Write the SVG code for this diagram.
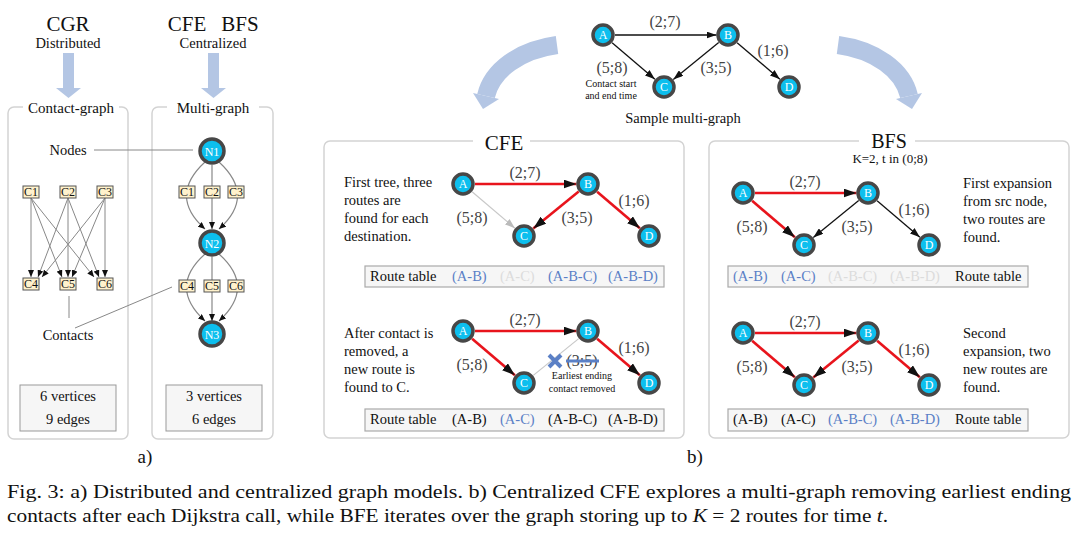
<svg xmlns="http://www.w3.org/2000/svg" width="1083" height="537" viewBox="0 0 1083 537">
<style>
text{font-family:"Liberation Serif","Times New Roman",serif;fill:#111}
.t14{font-size:14.5px}
.mid{text-anchor:middle}
.lab{font-size:16px;fill:#444;text-anchor:middle}
.nl{font-size:12px;fill:#fff;text-anchor:middle}
.nd{fill:#0dbfee;stroke:#474747;stroke-width:3.5}
.panel{fill:none;stroke:#d3d3d3;stroke-width:1.5}
.tbl{fill:#f6f6f6;stroke:#aaa;stroke-width:1.2}
.blue{fill:#5b80c6}
.faint{fill:#dcdcdc}
.red{stroke:#e8141c;stroke-width:2.6;fill:none;marker-end:url(#ahBig)}
.blk{stroke:#111;stroke-width:1.3;fill:none;marker-end:url(#ah)}
.gry{stroke:#c8c8c8;stroke-width:1.2;fill:none}
.cbox{fill:#fff2cc;stroke:#555;stroke-width:1}
.ct{font-size:12px;text-anchor:middle}
.cl{stroke:#888;stroke-width:1;fill:none;marker-end:url(#ahS)}
.ml{stroke:#888;stroke-width:1.2;fill:none;marker-end:url(#ahS)}
.lead{stroke:#888;stroke-width:1;fill:none}
.bigarrow{fill:#b4c6e4}
</style>
<defs>
<marker id="ah" markerUnits="userSpaceOnUse" markerWidth="10" markerHeight="7" refX="10" refY="3.5" orient="auto"><path d="M0,0 L10,3.5 L0,7 z" fill="#111"/></marker>
<marker id="ahBig" markerUnits="userSpaceOnUse" markerWidth="13" markerHeight="9" refX="13" refY="4.5" orient="auto"><path d="M0,0 L13,4.5 L0,9 z" fill="#111"/></marker>
<marker id="ahG" markerUnits="userSpaceOnUse" markerWidth="10" markerHeight="7" refX="10" refY="3.5" orient="auto"><path d="M0,0 L10,3.5 L0,7 z" fill="#bbb"/></marker>
<marker id="ahS" markerUnits="userSpaceOnUse" markerWidth="7" markerHeight="6" refX="7" refY="3" orient="auto"><path d="M0,0 L7,3 L0,6 z" fill="#111"/></marker>
</defs>
<rect width="1083" height="537" fill="#fff"/>

<!-- ===== Left: a) ===== -->
<text x="68" y="31" class="mid" font-size="21">CGR</text>
<text x="68" y="48" class="mid t14">Distributed</text>
<g id="arrow-cgr"><rect class="bigarrow" x="63" y="53" width="11" height="36"/><polygon class="bigarrow" points="56,88 81,88 68.5,98"/></g>
<text x="187" y="31" class="mid" font-size="21">CFE</text>
<text x="240" y="31" class="mid" font-size="21">BFS</text>
<text x="213" y="48" class="mid t14">Centralized</text>
<g id="arrow-central"><rect class="bigarrow" x="208" y="53" width="11" height="36"/><polygon class="bigarrow" points="201,88 226,88 213.5,98"/></g>

<g id="panel-contact-graph">
<rect class="panel" x="8" y="107" width="120" height="332" rx="6"/>
<rect x="23" y="99" width="96" height="16" fill="#fff"/>
<text x="71" y="113" class="mid" font-size="15">Contact-graph</text>
</g>
<g id="panel-multi-graph">
<rect class="panel" x="152" y="107" width="121" height="332" rx="6"/>
<rect x="167" y="99" width="92" height="16" fill="#fff"/>
<text x="213" y="113" class="mid" font-size="15">Multi-graph</text>
</g>

<g id="contact-edges">
<path class="cl" d="M31,198 L31,277"/>
<path class="cl" d="M31,198 L62,277"/>
<path class="cl" d="M31,198 L94,277"/>
<path class="cl" d="M68,198 L38,277"/>
<path class="cl" d="M68,198 L68,277"/>
<path class="cl" d="M68,198 L99,277"/>
<path class="cl" d="M105,198 L42,277"/>
<path class="cl" d="M105,198 L72,277"/>
<path class="cl" d="M105,198 L105,277"/>
</g>
<g id="cg-C1"><rect class="cbox" x="23" y="186" width="16" height="12"/><text class="ct" x="31" y="196">C1</text></g>
<g id="cg-C2"><rect class="cbox" x="60" y="186" width="16" height="12"/><text class="ct" x="68" y="196">C2</text></g>
<g id="cg-C3"><rect class="cbox" x="97" y="186" width="16" height="12"/><text class="ct" x="105" y="196">C3</text></g>
<g id="cg-C4"><rect class="cbox" x="23" y="278" width="16" height="12"/><text class="ct" x="31" y="288">C4</text></g>
<g id="cg-C5"><rect class="cbox" x="60" y="278" width="16" height="12"/><text class="ct" x="68" y="288">C5</text></g>
<g id="cg-C6"><rect class="cbox" x="97" y="278" width="16" height="12"/><text class="ct" x="105" y="288">C6</text></g>

<g id="annotations-a">
<text x="68" y="155" class="mid t14">Nodes</text>
<path class="lead" d="M94,150 L193,150"/>
<path class="lead" d="M69,296 L69,318"/>
<path class="lead" d="M75,328 L172,287"/>
<text x="68" y="340" class="mid t14">Contacts</text>
</g>

<g id="multi-edges">
<path class="ml" d="M205,162 Q168,196 205,229"/>
<path class="ml" d="M212,165 L212,229" stroke-width="2"/>
<path class="ml" d="M219,162 Q256,196 219,229"/>
<path class="ml" d="M205,254 Q168,287 205,321"/>
<path class="ml" d="M212,257 L212,321" stroke-width="2"/>
<path class="ml" d="M219,254 Q256,287 219,321"/>
</g>
<g id="mg-C1"><rect class="cbox" x="179" y="186" width="16" height="12"/><text class="ct" x="187" y="196">C1</text></g>
<g id="mg-C2"><rect class="cbox" x="204" y="186" width="16" height="12"/><text class="ct" x="212" y="196">C2</text></g>
<g id="mg-C3"><rect class="cbox" x="228" y="186" width="16" height="12"/><text class="ct" x="236" y="196">C3</text></g>
<g id="mg-C4"><rect class="cbox" x="179" y="280" width="16" height="12"/><text class="ct" x="187" y="290">C4</text></g>
<g id="mg-C5"><rect class="cbox" x="204" y="280" width="16" height="12"/><text class="ct" x="212" y="290">C5</text></g>
<g id="mg-C6"><rect class="cbox" x="228" y="280" width="16" height="12"/><text class="ct" x="236" y="290">C6</text></g>
<g id="mg-N1" transform="translate(212,151)"><circle class="nd" r="12"/><text class="nl" y="4.5">N1</text></g>
<g id="mg-N2" transform="translate(212,243)"><circle class="nd" r="12"/><text class="nl" y="4.5">N2</text></g>
<g id="mg-N3" transform="translate(212,334)"><circle class="nd" r="12"/><text class="nl" y="4.5">N3</text></g>

<g id="stats-contact"><rect x="20" y="385" width="96" height="46" fill="#f6f6f6" stroke="#999"/><text x="68" y="401" class="mid t14">6 vertices</text><text x="68" y="424" class="mid t14">9 edges</text></g>
<g id="stats-multi"><rect x="166" y="385" width="96" height="46" fill="#f6f6f6" stroke="#999"/><text x="214" y="401" class="mid t14">3 vertices</text><text x="214" y="424" class="mid t14">6 edges</text></g>
<text x="145" y="463" class="mid" font-size="19">a)</text>

<!-- ===== Top sample multi-graph ===== -->
<g id="curved-arrows">
<path d="M557,45 C520,50 492,70 486,96" fill="none" stroke="#b4c6e4" stroke-width="18"/>
<polygon class="bigarrow" points="473,93 499,99 483,109"/>
<path d="M838,45 C875,50 903,70 909,96" fill="none" stroke="#b4c6e4" stroke-width="18"/>
<polygon class="bigarrow" points="896,99 922,93 912,109"/>
</g>
<g transform="translate(603,35)">
<g id="sample-edges">
<path class="blk" d="M12,0 L113.5,0"/>
<path class="blk" d="M9.1,7.8 L51.9,44.2"/>
<path class="blk" d="M115.7,7.6 L70.3,44.4"/>
<path class="blk" d="M134.1,7.8 L176.9,44.2"/>
<text class="lab" x="62" y="-8">(2;7)</text>
<text class="lab" x="9" y="38">(5;8)</text>
<text class="lab" x="113" y="38">(3;5)</text>
<text class="lab" x="170" y="21">(1;6)</text>
<text x="8" y="52" class="mid" font-size="10" fill="#444">Contact start</text>
<text x="8" y="64" class="mid" font-size="10" fill="#444">and end time</text>
</g>
<g id="sample-A"><circle class="nd" r="10"/><text class="nl" y="4">A</text></g>
<g id="sample-B" transform="translate(125,0)"><circle class="nd" r="10"/><text class="nl" y="4">B</text></g>
<g id="sample-C" transform="translate(61,52)"><circle class="nd" r="10"/><text class="nl" y="4">C</text></g>
<g id="sample-D" transform="translate(186,52)"><circle class="nd" r="10"/><text class="nl" y="4">D</text></g>
</g>
<text x="683" y="123" class="mid t14">Sample multi-graph</text>

<!-- ===== CFE panel ===== -->
<g id="panel-cfe">
<rect class="panel" x="324" y="141" width="360" height="297" rx="6"/>
<rect x="473" y="130" width="57" height="18" fill="#fff"/>
<text x="504" y="150" class="mid" font-size="21">CFE</text>
</g>
<g transform="translate(463,184)">
<g id="cfe1-edges">
<path class="red" d="M12,0 L113.5,0"/>
<path class="gry" d="M9.1,7.8 L51.9,44.2" marker-end="url(#ahG)"/>
<path class="red" d="M115.7,7.6 L70.3,44.4"/>
<path class="red" d="M134.1,7.8 L176.9,44.2"/>
<text class="lab" x="62" y="-6">(2;7)</text>
<text class="lab" x="9" y="39">(5;8)</text>
<text class="lab" x="114" y="39">(3;5)</text>
<text class="lab" x="171" y="22">(1;6)</text>
</g>
<g id="cfe1-A"><circle class="nd" r="10"/><text class="nl" y="4">A</text></g>
<g id="cfe1-B" transform="translate(125,0)"><circle class="nd" r="10"/><text class="nl" y="4">B</text></g>
<g id="cfe1-C" transform="translate(61,52)"><circle class="nd" r="10"/><text class="nl" y="4">C</text></g>
<g id="cfe1-D" transform="translate(186,52)"><circle class="nd" r="10"/><text class="nl" y="4">D</text></g>
</g>
<text class="t14" x="344" y="187">First tree, three</text>
<text class="t14" x="344" y="205">routes are</text>
<text class="t14" x="344" y="223">found for each</text>
<text class="t14" x="344" y="241">destination.</text>
<g id="cfe1-table">
<rect class="tbl" x="365" y="266" width="299" height="21"/>
<text class="t14" x="370" y="281">Route table</text>
<text class="t14 blue" x="452" y="281">(A-B)</text>
<text class="t14 faint" x="500" y="281">(A-C)</text>
<text class="t14 blue" x="548" y="281">(A-B-C)</text>
<text class="t14 blue" x="608" y="281">(A-B-D)</text>
</g>

<g transform="translate(463,331)">
<g id="cfe2-edges">
<path class="red" d="M12,0 L113.5,0"/>
<path class="red" d="M9.1,7.8 L51.9,44.2"/>
<path class="gry" d="M115.7,7.6 L70.3,44.4"/>
<path class="red" d="M134.1,7.8 L176.9,44.2"/>
<text class="lab" x="62" y="-6">(2;7)</text>
<text class="lab" x="9" y="39">(5;8)</text>
<text class="lab" x="119" y="35">(3;5)</text>
<path d="M103,30 L136,30" stroke="#5b80c6" stroke-width="3"/>
<path d="M86,24 L98,36 M98,24 L86,36" stroke="#5b80c6" stroke-width="4"/>
<text x="119" y="48" class="mid" font-size="10" fill="#555">Earliest ending</text>
<text x="119" y="61" class="mid" font-size="10" fill="#555">contact removed</text>
<text class="lab" x="171" y="22">(1;6)</text>
</g>
<g id="cfe2-A"><circle class="nd" r="10"/><text class="nl" y="4">A</text></g>
<g id="cfe2-B" transform="translate(125,0)"><circle class="nd" r="10"/><text class="nl" y="4">B</text></g>
<g id="cfe2-C" transform="translate(61,52)"><circle class="nd" r="10"/><text class="nl" y="4">C</text></g>
<g id="cfe2-D" transform="translate(186,52)"><circle class="nd" r="10"/><text class="nl" y="4">D</text></g>
</g>
<text class="t14" x="344" y="338">After contact is</text>
<text class="t14" x="344" y="356">removed, a</text>
<text class="t14" x="344" y="374">new route is</text>
<text class="t14" x="344" y="392">found to C.</text>
<g id="cfe2-table">
<rect class="tbl" x="365" y="409" width="299" height="22"/>
<text class="t14" x="370" y="424">Route table</text>
<text class="t14" x="452" y="424">(A-B)</text>
<text class="t14 blue" x="500" y="424">(A-C)</text>
<text class="t14" x="548" y="424">(A-B-C)</text>
<text class="t14" x="608" y="424">(A-B-D)</text>
</g>

<!-- ===== BFS panel ===== -->
<g id="panel-bfs">
<rect class="panel" x="709" y="141" width="360" height="297" rx="6"/>
<rect x="859" y="130" width="56" height="18" fill="#fff"/>
<text x="889" y="148" class="mid" font-size="20">BFS</text>
<text x="890" y="163" class="mid" font-size="13">K=2, t in (0;8)</text>
</g>
<g transform="translate(743,193)">
<g id="bfs1-edges">
<path class="red" d="M12,0 L113.5,0"/>
<path class="red" d="M9.1,7.8 L51.9,44.2"/>
<path class="blk" d="M115.7,7.6 L70.3,44.4"/>
<path class="blk" d="M134.1,7.8 L176.9,44.2"/>
<text class="lab" x="62" y="-6">(2;7)</text>
<text class="lab" x="9" y="39">(5;8)</text>
<text class="lab" x="114" y="39">(3;5)</text>
<text class="lab" x="171" y="22">(1;6)</text>
</g>
<g id="bfs1-A"><circle class="nd" r="10"/><text class="nl" y="4">A</text></g>
<g id="bfs1-B" transform="translate(125,0)"><circle class="nd" r="10"/><text class="nl" y="4">B</text></g>
<g id="bfs1-C" transform="translate(61,52)"><circle class="nd" r="10"/><text class="nl" y="4">C</text></g>
<g id="bfs1-D" transform="translate(186,52)"><circle class="nd" r="10"/><text class="nl" y="4">D</text></g>
</g>
<text class="t14" x="963" y="188">First expansion</text>
<text class="t14" x="963" y="206">from src node,</text>
<text class="t14" x="963" y="224">two routes are</text>
<text class="t14" x="963" y="242">found.</text>
<g id="bfs1-table">
<rect class="tbl" x="728" y="266" width="300" height="21"/>
<text class="t14 blue" x="733" y="281">(A-B)</text>
<text class="t14 blue" x="781" y="281">(A-C)</text>
<text class="t14 faint" x="828" y="281">(A-B-C)</text>
<text class="t14 faint" x="890" y="281">(A-B-D)</text>
<text class="t14" x="955" y="281">Route table</text>
</g>

<g transform="translate(743,333)">
<g id="bfs2-edges">
<path class="red" d="M12,0 L113.5,0"/>
<path class="red" d="M9.1,7.8 L51.9,44.2"/>
<path class="red" d="M115.7,7.6 L70.3,44.4"/>
<path class="red" d="M134.1,7.8 L176.9,44.2"/>
<text class="lab" x="62" y="-6">(2;7)</text>
<text class="lab" x="9" y="39">(5;8)</text>
<text class="lab" x="114" y="39">(3;5)</text>
<text class="lab" x="171" y="22">(1;6)</text>
</g>
<g id="bfs2-A"><circle class="nd" r="10"/><text class="nl" y="4">A</text></g>
<g id="bfs2-B" transform="translate(125,0)"><circle class="nd" r="10"/><text class="nl" y="4">B</text></g>
<g id="bfs2-C" transform="translate(61,52)"><circle class="nd" r="10"/><text class="nl" y="4">C</text></g>
<g id="bfs2-D" transform="translate(186,52)"><circle class="nd" r="10"/><text class="nl" y="4">D</text></g>
</g>
<text class="t14" x="963" y="338">Second</text>
<text class="t14" x="963" y="356">expansion, two</text>
<text class="t14" x="963" y="374">new routes are</text>
<text class="t14" x="963" y="392">found.</text>
<g id="bfs2-table">
<rect class="tbl" x="728" y="409" width="300" height="22"/>
<text class="t14" x="733" y="424">(A-B)</text>
<text class="t14" x="781" y="424">(A-C)</text>
<text class="t14 blue" x="828" y="424">(A-B-C)</text>
<text class="t14 blue" x="890" y="424">(A-B-D)</text>
<text class="t14" x="955" y="424">Route table</text>
</g>
<text x="695" y="463" class="mid" font-size="19">b)</text>

<!-- ===== Caption ===== -->
<text x="7" y="498" font-size="19" textLength="1064" lengthAdjust="spacingAndGlyphs">Fig. 3: a) Distributed and centralized graph models. b) Centralized CFE explores a multi-graph removing earliest ending</text>
<text x="7" y="522" font-size="19" textLength="881" lengthAdjust="spacingAndGlyphs">contacts after each Dijkstra call, while BFE iterates over the graph storing up to <tspan font-style="italic">K</tspan> = 2 routes for time <tspan font-style="italic">t</tspan>.</text>
</svg>
